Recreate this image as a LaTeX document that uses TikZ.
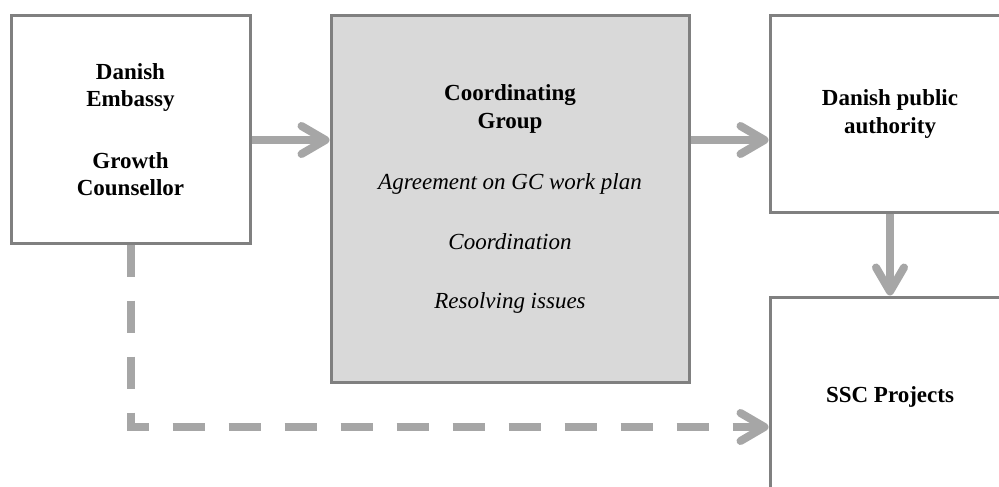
\documentclass[tikz,border=0pt]{standalone}
\usepackage{fontspec}
\setmainfont{Liberation Serif}
\usetikzlibrary{arrows.meta}
\definecolor{bordergray}{HTML}{808080}
\definecolor{arrowgray}{HTML}{A6A6A6}
\definecolor{fillgray}{HTML}{D9D9D9}
\begin{document}
\begin{tikzpicture}[x=1pt,y=-1pt,
  box/.style={draw=bordergray, line width=3pt, fill=white, align=center, inner sep=0pt,
    font=\fontsize{23}{27.5}\selectfont},
  conn/.style={draw=arrowgray, line width=8pt, line cap=butt,
    -{Straight Barb[length=24pt,width=28pt,round]}},
  dashconn/.style={conn, dash pattern=on 32pt off 24pt, line join=miter}
]
\useasboundingbox (0,0) rectangle (999,487);
\clip (0,0) rectangle (999,487);
\node[box, minimum width=239pt, minimum height=227pt] (emb) at (130.5,129.5)
  {\textbf{Danish}\\\textbf{Embassy}\\[34pt]\textbf{Growth}\\\textbf{Counsellor}};
\node[box, fill=fillgray, minimum width=358pt, minimum height=366pt] (cg) at (510,199)
  {\textbf{Coordinating}\\\textbf{Group}\\[34pt]\textit{Agreement on GC work plan}\\[32pt]\textit{Coordination}\\[32pt]\textit{Resolving issues}};
\node[box, minimum width=240pt, minimum height=196pt] (dpa) at (890,114)
  {\textbf{Danish public}\\\textbf{authority}};
\node[box, minimum width=240pt, minimum height=200pt] (ssc) at (890,397)
  {\textbf{SSC Projects}};
\coordinate (ay) at (0,140);
\coordinate (dx) at (131,0);
\coordinate (dy) at (0,427);
\draw[conn] (emb.east |- ay) -- (cg.west |- ay);
\draw[conn] (cg.east |- ay) -- (dpa.west |- ay);
\draw[conn] (dpa.south) -- (ssc.north);
\draw[dashconn] (emb.south -| dx) -- (dx |- dy) -- (ssc.west |- dy);
\end{tikzpicture}
\end{document}
